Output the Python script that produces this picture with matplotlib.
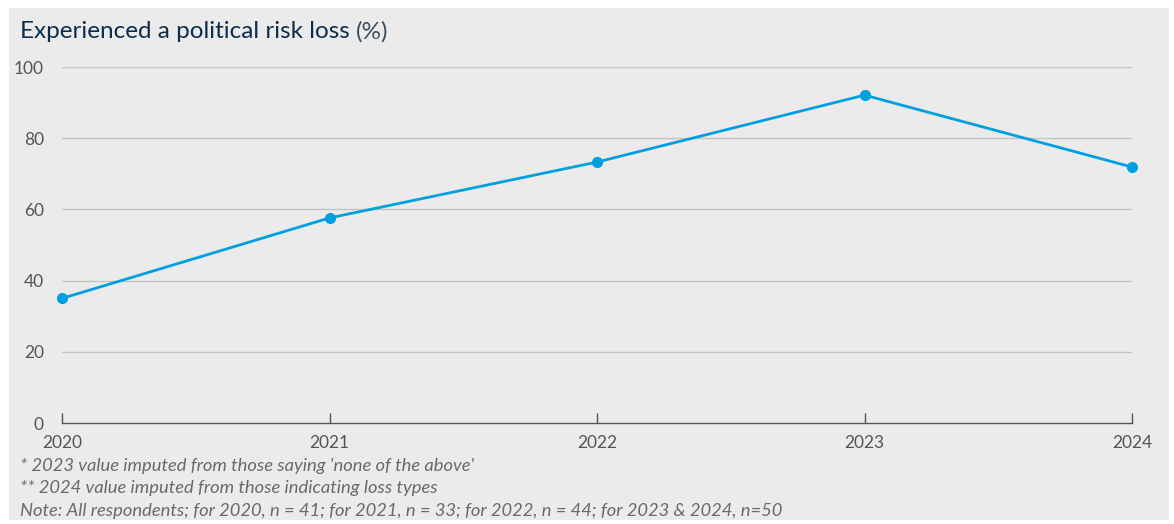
import matplotlib.pyplot as plt
from matplotlib.patches import Rectangle

plt.rcParams['font.family'] = ['Lato', 'DejaVu Sans']

# Data
years = [2020, 2021, 2022, 2023, 2024]
loss_pct = [35.0, 57.6, 73.3, 92.1, 71.9]
y_ticks = [0, 20, 40, 60, 80, 100]
notes = [
    "* 2023 value imputed from those saying 'none of the above'",
    "** 2024 value imputed from those indicating loss types",
    "Note: All respondents; for 2020, n = 41; for 2021, n = 33; for 2022, n = 44; for 2023 & 2024, n=50",
]

W, H = 1174, 524
fig = plt.figure(figsize=(W / 100, H / 100), dpi=100)
fig.patch.set_facecolor('white')

# grey panel behind everything
bg = '#ebebeb'
fig.patches.append(Rectangle((9 / W, 1 - 520 / H), (1169 - 9) / W, (520 - 8) / H,
                             transform=fig.transFigure, facecolor=bg,
                             edgecolor='none', zorder=-10))

ax = fig.add_axes([62 / W, 1 - 423 / H, (1132 - 62) / W, (423 - 67) / H])
ax.set_facecolor('none')

ax.plot(years, loss_pct, color='#00a0df', lw=2, marker='o', ms=7,
        clip_on=False, zorder=5)

ax.set_xlim(2020, 2024)
ax.set_ylim(0, 100)
ax.set_xticks(years)
ax.set_xticklabels([str(y) for y in years])
ax.set_yticks(y_ticks)

for v in y_ticks[1:]:
    ax.axhline(v, color='#c4c4c4', lw=1, zorder=1)

for s in ['top', 'right', 'left']:
    ax.spines[s].set_visible(False)
ax.spines['bottom'].set_color('#555555')
ax.spines['bottom'].set_linewidth(1)

ax.tick_params(axis='x', direction='in', length=7, width=1, color='#555555',
               labelsize=12.5, labelcolor='#555555', pad=9)
ax.tick_params(axis='y', length=0, labelsize=12.5, labelcolor='#555555', pad=13)

fig.text(20 / W, 1 - 32 / H, 'Experienced a political risk loss', fontsize=17.5,
         color='#0d2d4c', va='center', ha='left')
fig.text(356 / W, 1 - 32 / H, '(%)', fontsize=17.5, color='#3a4d60',
         va='center', ha='left')

for i, line in enumerate(notes):
    fig.text(20 / W, 1 - (466 + 22.5 * i) / H, line, fontsize=13.2,
             style='italic', color='#6a6a6a', va='center', ha='left')

fig.savefig('out.png', dpi=100, facecolor='white')
